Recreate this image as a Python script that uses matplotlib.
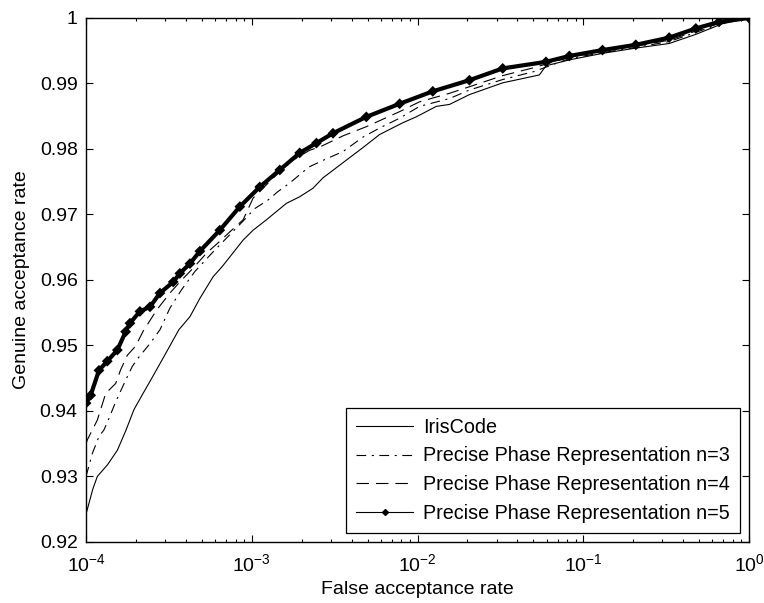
import numpy as np
import matplotlib
matplotlib.use("Agg")
import matplotlib.pyplot as plt
import matplotlib.patheffects as pe
from matplotlib.lines import Line2D

plt.rcParams['font.family'] = ['Liberation Sans', 'DejaVu Sans']
plt.rcParams['mathtext.fontset'] = 'custom'
plt.rcParams['mathtext.rm'] = 'Liberation Sans'
plt.rcParams['mathtext.it'] = 'Liberation Sans'
plt.rcParams['lines.scale_dashes'] = False

# curves: log10(FAR) and GAR
iris_logfar = [-4.000, -3.992, -3.960, -3.932, -3.870, -3.811, -3.760, -3.711, -3.660,
               -3.610, -3.530, -3.440, -3.373, -3.313, -3.233, -3.180, -3.133, -3.052,
               -2.992, -2.911, -2.791, -2.711, -2.631, -2.570, -2.450, -2.330, -2.229,
               -2.089, -2.008, -1.887, -1.807, -1.687, -1.486, -1.265, -1.225, -1.084,
               -0.884, -0.683, -0.482, -0.321, -0.163, -0.050, 0.000]
iris_gar = [0.9243, 0.9250, 0.9280, 0.9300, 0.9318, 0.9340, 0.9370, 0.9402, 0.9425,
            0.9447, 0.9483, 0.9524, 0.9544, 0.9572, 0.9605, 0.9620, 0.9635, 0.9661,
            0.9676, 0.9692, 0.9717, 0.9727, 0.9740, 0.9756, 0.9779, 0.9802, 0.9822,
            0.9840, 0.9849, 0.9865, 0.9868, 0.9883, 0.9901, 0.9913, 0.9927, 0.9936,
            0.9946, 0.9954, 0.9961, 0.9975, 0.9991, 0.9997, 1.0000]

n3_logfar = [-4.000, -3.962, -3.922, -3.892, -3.861, -3.821, -3.761, -3.721, -3.685,
             -3.614, -3.554, -3.494, -3.424, -3.343, -3.233, -3.133, -3.052, -2.982,
             -2.902, -2.842, -2.771, -2.691, -2.651, -2.550, -2.450, -2.330, -2.229,
             -2.108, -1.988, -1.807, -1.687, -1.486, -1.300, -1.084, -0.884, -0.683,
             -0.482, -0.321, -0.163, 0.000]
n3_gar = [0.9300, 0.9335, 0.9361, 0.9371, 0.9389, 0.9414, 0.9447, 0.9468, 0.9481,
          0.9503, 0.9524, 0.9557, 0.9585, 0.9613, 0.9643, 0.9669, 0.9690, 0.9709,
          0.9722, 0.9735, 0.9748, 0.9765, 0.9773, 0.9785, 0.9796, 0.9818, 0.9832,
          0.9847, 0.9865, 0.9877, 0.9890, 0.9906, 0.9918, 0.9938, 0.9947, 0.9955,
          0.9964, 0.9978, 0.9992, 1.0000]

n4_logfar = [-4.000, -3.992, -3.932, -3.881, -3.821, -3.791, -3.751, -3.701, -3.655,
             -3.574, -3.494, -3.434, -3.354, -3.273, -3.193, -3.143, -3.052, -2.992,
             -2.881, -2.771, -2.651, -2.590, -2.450, -2.309, -2.108, -1.988, -1.807,
             -1.687, -1.486, -1.300, -1.084, -0.884, -0.683, -0.482, -0.321, -0.163,
             0.000]
n4_gar = [0.9350, 0.9356, 0.9386, 0.9427, 0.9442, 0.9463, 0.9485, 0.9499, 0.9522,
          0.9554, 0.9580, 0.9597, 0.9618, 0.9641, 0.9659, 0.9671, 0.9692, 0.9725,
          0.9753, 0.9780, 0.9798, 0.9803, 0.9820, 0.9834, 0.9857, 0.9872, 0.9885,
          0.9895, 0.9912, 0.9924, 0.9940, 0.9950, 0.9957, 0.9966, 0.9980, 0.9993,
          1.0000]

n5_logfar = [-4.000, -3.972, -3.922, -3.872, -3.811, -3.761, -3.735, -3.675, -3.614,
             -3.554, -3.474, -3.434, -3.373, -3.313, -3.193, -3.072, -2.952, -2.831,
             -2.711, -2.610, -2.510, -2.309, -2.108, -1.908, -1.687, -1.486, -1.225,
             -1.084, -0.884, -0.683, -0.482, -0.321, -0.181, 0.000]
n5_gar = [0.9412, 0.9424, 0.9462, 0.9476, 0.9493, 0.9521, 0.9534, 0.9552, 0.9559,
          0.9580, 0.9597, 0.9610, 0.9625, 0.9644, 0.9676, 0.9712, 0.9742, 0.9768,
          0.9794, 0.9809, 0.9824, 0.9849, 0.9869, 0.9888, 0.9905, 0.9923, 0.9933,
          0.9942, 0.9951, 0.9959, 0.9970, 0.9984, 0.9994, 1.0000]

labels = ["IrisCode",
          "Precise Phase Representation n=3",
          "Precise Phase Representation n=4",
          "Precise Phase Representation n=5"]

fig = plt.figure(figsize=(7.64, 6.03), dpi=100)
ax = fig.add_axes([0.1126, 0.1012, 0.8678, 0.8690])

lw = 0.8
ax.plot(10 ** np.array(iris_logfar), iris_gar, color='k', lw=lw, ls='-')
ax.plot(10 ** np.array(n3_logfar), n3_gar, color='k', lw=lw, dashes=(7, 4, 1.5, 4))
ax.plot(10 ** np.array(n4_logfar), n4_gar, color='k', lw=lw, dashes=(9, 5))
ax.plot(10 ** np.array(n5_logfar), n5_gar, color='k', lw=1.0, marker='D', ms=2.5,
        path_effects=[pe.Stroke(linewidth=3.0, foreground='k'), pe.Normal()])

ax.set_xscale('log')
ax.set_xlim(1e-4, 1)
ax.set_ylim(0.92, 1.0)
ax.set_yticks(np.arange(0.92, 1.001, 0.01))
ax.set_yticklabels(["0.92", "0.93", "0.94", "0.95", "0.96", "0.97", "0.98", "0.99", "1"])

ax.tick_params(which='both', direction='in', top=True, right=True, labelsize=14,
               width=0.8)
ax.tick_params(which='major', length=5, pad=6)
ax.tick_params(which='minor', length=2.5)
ax.tick_params(axis='x', which='major', pad=8)
for sp in ax.spines.values():
    sp.set_linewidth(1.0)

ax.set_xlabel("False acceptance rate", fontsize=14, labelpad=4)
ax.set_ylabel("Genuine acceptance rate", fontsize=14, labelpad=7)

handles = [Line2D([], [], color='k', lw=lw, ls='-'),
           Line2D([], [], color='k', lw=lw, dashes=(7, 4, 1.5, 4)),
           Line2D([], [], color='k', lw=lw, dashes=(9, 5)),
           Line2D([], [], color='k', lw=lw, marker='D', ms=3)]
leg = ax.legend(handles, labels, loc='lower right', bbox_to_anchor=(0.986, 0.017),
                borderaxespad=0, fontsize=14.2, handlelength=2.9, handletextpad=0.5,
                labelspacing=0.5, borderpad=0.5, fancybox=False, framealpha=1,
                edgecolor='k')
leg.get_frame().set_linewidth(0.9)

fig.savefig("out.png", dpi=100)
